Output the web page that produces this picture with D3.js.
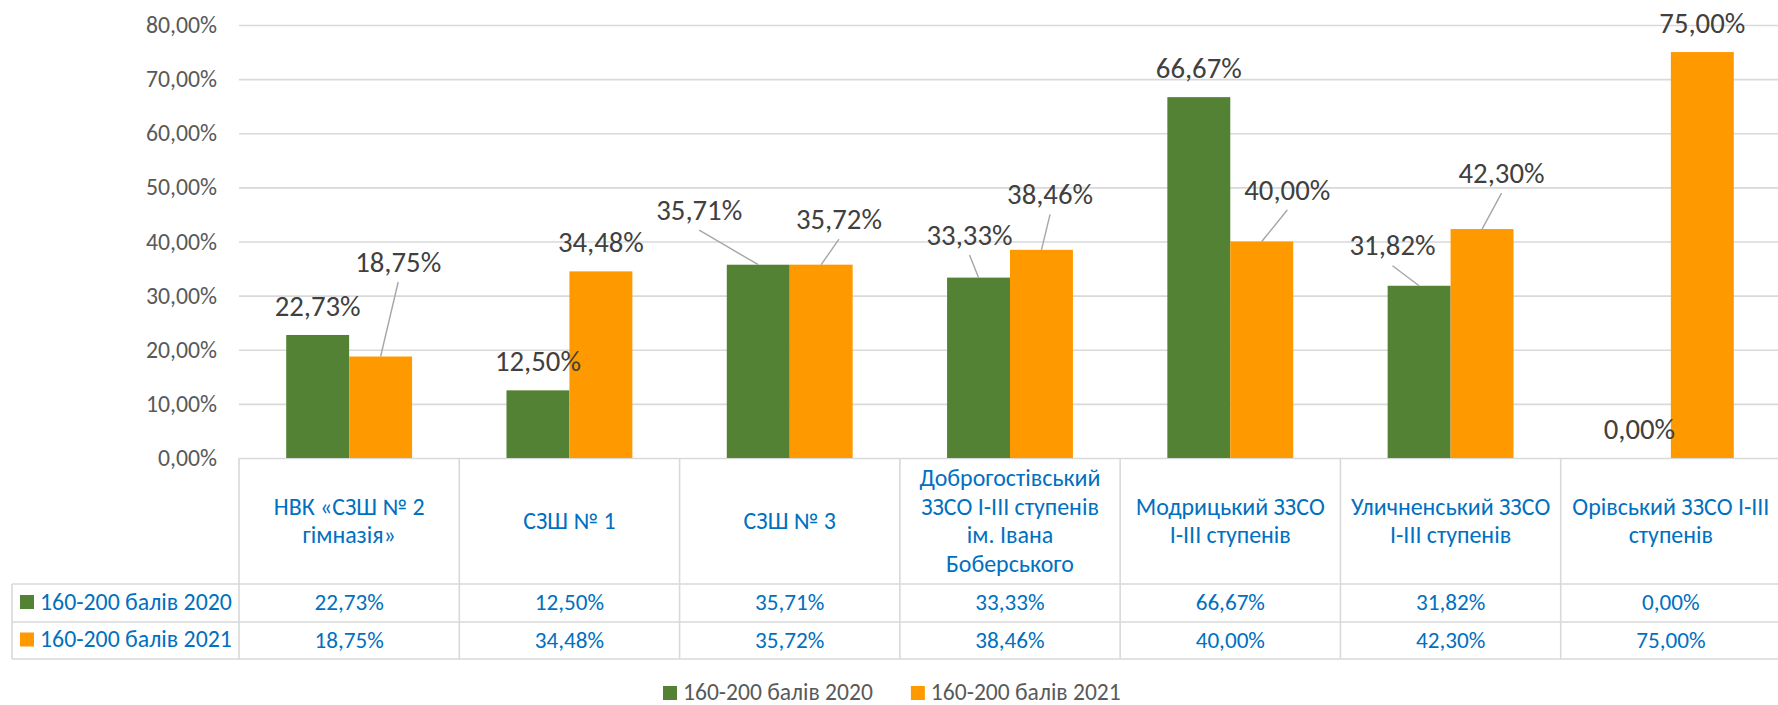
<!DOCTYPE html>
<html>
<head>
<meta charset="utf-8">
<script src="https://cdn.jsdelivr.net/npm/d3@7"></script>
<style>
  html, body { margin: 0; padding: 0; background: #ffffff; }
  svg { display: block; font-family: Carlito, Lato, "Noto Sans", sans-serif; }
</style>
</head>
<body>
<svg id="chart" width="1778" height="705"></svg>
<script>
// ---------------- DATA ----------------
const categories = [
  "НВК «СЗШ № 2\nгімназія»",
  "СЗШ № 1",
  "СЗШ № 3",
  "Доброгостівський\nЗЗСО І-ІІІ ступенів\nім. Івана\nБоберського",
  "Модрицький ЗЗСО\nІ-ІІІ ступенів",
  "Уличненський ЗЗСО\nІ-ІІІ ступенів",
  "Орівський ЗЗСО І-ІІІ\nступенів"
];
const seriesNames = ["160-200 балів 2020", "160-200 балів 2021"];
const values2020 = [0.2273, 0.1250, 0.3571, 0.3333, 0.6667, 0.3182, 0.0000];
const values2021 = [0.1875, 0.3448, 0.3572, 0.3846, 0.4000, 0.4230, 0.7500];
const yTicks = [0, 0.1, 0.2, 0.3, 0.4, 0.5, 0.6, 0.7, 0.8];

// ---------------- STYLE / LAYOUT ----------------
const colors = ["#548235", "#FF9900"];
// manual data-label displacement (px) relative to the default outside-end spot
const labelShift = [
  [[0,0],[0,0],[-59,-26],[-9,-14],[0,0],[-26.6,-11.5],[0,0]],
  [[17.6,-66],[0,0],[17.8,-17],[8.6,-27],[25.5,-23],[19.5,-27.5],[0,0]]
];
const plot = { left: 239, right: 1781, top: 25, bottom: 458 };
const table = { left: 12, headerBottom: 584, row1Bottom: 622, row2Bottom: 659 };

const locale = d3.formatLocale({ decimal: ",", thousands: " ", grouping: [3], currency: ["", ""] });
const pct = locale.format(".2%");

const svg = d3.select("#chart");
svg.append("rect").attr("width", 1778).attr("height", 705).attr("fill", "#fff");

// font-size fitting so that the installed font matches the reference text widths
function fit(sample, targetWidth) {
  const t = svg.append("text").attr("font-size", 20).text(sample);
  const w = t.node().getComputedTextLength();
  t.remove();
  return 20 * targetWidth / w;
}
const fsLabel  = fit("75,00%", 86);
const fsTick   = fit("0,00%", 59);
const fsCell   = fit("0,00%", 57.6);
const fsRow    = fit("160-200 балів 2020", 192);
const fsHeader = fit("Модрицький ЗЗСО", 189);
const fsLegend = fit("160-200 балів 2020", 190);

const x = d3.scaleBand().domain(d3.range(categories.length)).range([plot.left, plot.right]).paddingInner(0).paddingOuter(0);
const xs = d3.scaleBand().domain([0, 1]).range([0, x.step()]).paddingInner(0).paddingOuter(0.75);
const y = d3.scaleLinear().domain([0, 0.8]).range([plot.bottom, plot.top]);

// ---------- Y axis + gridlines ----------
const yAxis = d3.axisLeft(y).tickValues(yTicks).tickFormat(pct)
  .tickSize(-(plot.right - plot.left)).tickPadding(22);
const gy = svg.append("g").attr("transform", `translate(${plot.left},0)`).call(yAxis);
gy.select(".domain").remove();
gy.selectAll(".tick line").attr("stroke", "#D9D9D9").attr("stroke-width", 1.6);
gy.selectAll(".tick text").attr("fill", "#595959").attr("font-size", fsTick)
  .style("font-family", "Carlito, Lato, sans-serif");

// ---------- Bars ----------
const series = [values2020, values2021];
series.forEach((vals, si) => {
  svg.append("g").selectAll("rect").data(vals).join("rect")
    .attr("x", (d, i) => x(i) + xs(si))
    .attr("width", xs.bandwidth())
    .attr("y", d => y(d))
    .attr("height", d => y(0) - y(d))
    .attr("fill", colors[si]);
});

// ---------- Data labels with leader lines ----------
series.forEach((vals, si) => {
  const g = svg.append("g");
  vals.forEach((d, i) => {
    const bx = x(i) + xs(si) + xs.bandwidth() / 2;
    const by = y(d);
    const [dx, dy] = labelShift[si][i];
    const lx = bx + dx;
    const ly = by - 19 + dy;
    if (dx !== 0 || dy !== 0) {
      g.append("line")
        .attr("x1", bx).attr("y1", by)
        .attr("x2", lx).attr("y2", ly + 10.5)
        .attr("stroke", "#A6A6A6").attr("stroke-width", 1.4);
    }
    g.append("text")
      .attr("x", lx).attr("y", ly)
      .attr("text-anchor", "middle")
      .attr("fill", "#404040")
      .attr("font-size", fsLabel)
      .text(pct(d));
  });
});

// ---------- Data table ----------
const tg = svg.append("g");
const lineColor = "#D9D9D9";
const lw = 1.6;
[table.headerBottom, table.row1Bottom, table.row2Bottom].forEach(yy => {
  tg.append("line").attr("x1", table.left).attr("x2", plot.right)
    .attr("y1", yy).attr("y2", yy).attr("stroke", lineColor).attr("stroke-width", lw);
});
tg.append("line").attr("x1", table.left).attr("x2", table.left)
  .attr("y1", table.headerBottom).attr("y2", table.row2Bottom)
  .attr("stroke", lineColor).attr("stroke-width", lw);
d3.range(categories.length + 1).forEach(k => {
  const xx = plot.left + k * x.step();
  tg.append("line").attr("x1", xx).attr("x2", xx)
    .attr("y1", plot.bottom).attr("y2", table.row2Bottom)
    .attr("stroke", lineColor).attr("stroke-width", lw);
});

// header labels
const headerCenter = (plot.bottom + table.headerBottom) / 2;
const lh = 28.6;
categories.forEach((c, i) => {
  const lines = c.split("\n");
  const t = tg.append("text").attr("text-anchor", "middle")
    .attr("fill", "#0070C0").attr("font-size", fsHeader);
  lines.forEach((ln, j) => {
    t.append("tspan")
      .attr("x", x(i) + x.bandwidth() / 2)
      .attr("y", headerCenter + 8 + (j - (lines.length - 1) / 2) * lh)
      .text(ln);
  });
});

// series rows
const rowCenters = [(table.headerBottom + table.row1Bottom) / 2, (table.row1Bottom + table.row2Bottom) / 2];
series.forEach((vals, si) => {
  const cy = rowCenters[si];
  tg.append("rect").attr("x", 20).attr("y", cy - 8).attr("width", 14).attr("height", 14).attr("fill", colors[si]);
  tg.append("text").attr("x", 40).attr("y", cy + 6.5)
    .attr("fill", "#0070C0").attr("font-size", fsRow).text(seriesNames[si]);
  tg.append("g").selectAll("text").data(vals).join("text")
    .attr("x", (d, i) => x(i) + x.bandwidth() / 2)
    .attr("y", cy + 7.3)
    .attr("text-anchor", "middle")
    .attr("fill", "#0070C0").attr("font-size", fsCell)
    .text(d => pct(d));
});

// ---------- Legend ----------
const lg = svg.append("g");
let lxPos = 663;
seriesNames.forEach((name, si) => {
  lg.append("rect").attr("x", lxPos).attr("y", 686).attr("width", 14).attr("height", 14).attr("fill", colors[si]);
  const t = lg.append("text").attr("x", lxPos + 20).attr("y", 699.5)
    .attr("fill", "#595959").attr("font-size", fsLegend).text(name);
  lxPos = lxPos + 20 + t.node().getComputedTextLength() + 38;
});
</script>
</body>
</html>
